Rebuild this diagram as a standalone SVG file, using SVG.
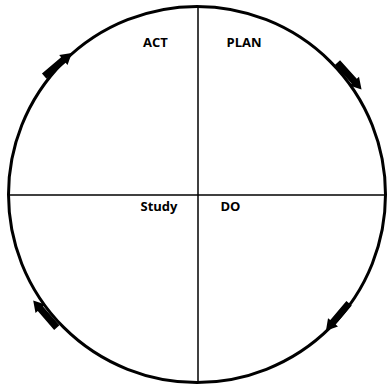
<svg xmlns="http://www.w3.org/2000/svg" width="387" height="386" viewBox="0 0 387 386">
  <style>
    .ring { fill: none; stroke: #000; stroke-width: 3; }
    .axis { stroke: #000; stroke-width: 1.5; }
    .lbl { font-family: "Open Sans", "Liberation Sans", sans-serif; font-weight: bold; font-size: 13px; fill: #000; }
    .arrow { fill: #000; }
  </style>
  <defs>
    <polygon id="arr" class="arrow" points="-18,-3.5 7,-3.5 7,-6.5 18,0 7,6.5 7,3.5 -18,3.5"/>
  </defs>
  <rect width="387" height="386" fill="#fff"/>
  <g id="cycle">
    <ellipse class="ring" cx="197" cy="194.5" rx="188.5" ry="188"/>
  </g>
  <g id="axes">
    <line class="axis" x1="9" y1="195" x2="385" y2="195"/>
    <line class="axis" x1="198" y1="7" x2="198" y2="382"/>
  </g>
  <g id="connectors">
    <use href="#arr" transform="translate(58,64.5) rotate(-40)"/>
    <use href="#arr" transform="translate(349.5,76) rotate(48)"/>
    <use href="#arr" transform="translate(337.5,317) rotate(130)"/>
    <use href="#arr" transform="translate(45,314) rotate(229)"/>
  </g>
  <g id="act"><text class="lbl" x="143" y="47">ACT</text></g>
  <g id="plan"><text class="lbl" x="226.5" y="47">PLAN</text></g>
  <g id="study"><text class="lbl" x="140.5" y="211">Study</text></g>
  <g id="do"><text class="lbl" x="220.5" y="211">DO</text></g>
</svg>
